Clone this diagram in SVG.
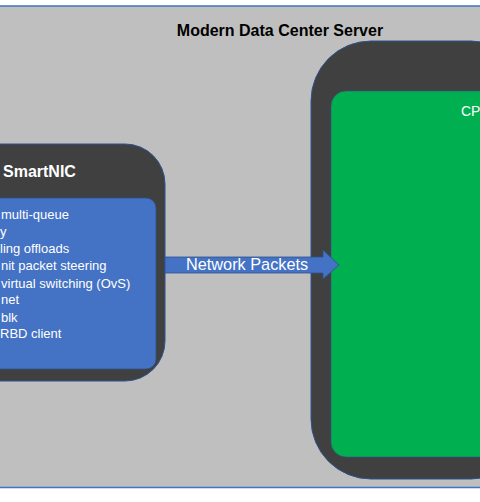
<svg xmlns="http://www.w3.org/2000/svg" width="480" height="502" viewBox="0 0 480 502">
  <style>
    .frame { fill: #404040; stroke: #2F528F; stroke-width: 1; }
    .lbl { font-family: "Liberation Sans", Arial, sans-serif; fill: #ffffff; }
    .item { font-family: "Liberation Sans", Arial, sans-serif; font-size: 13px; fill: #ffffff; }
  </style>
  <rect x="0" y="0" width="480" height="502" fill="#ffffff"/>
  <g id="server">
    <rect x="-10" y="6" width="500" height="481.5" fill="#BFBFBF" stroke="#4472C4" stroke-width="1.5"/>
    <text x="280" y="36" text-anchor="middle" font-family="Liberation Sans, Arial, sans-serif" font-size="16" font-weight="bold" fill="#000000">Modern Data Center Server</text>
  </g>
  <g id="smartnic">
    <rect class="frame" x="-80" y="144" width="245" height="237" rx="40" ry="40"/>
    <text class="lbl" x="3" y="177" font-size="16" font-weight="bold">SmartNIC</text>
    <rect x="-60" y="198" width="216" height="171" rx="10" ry="10" fill="#4472C4" stroke="#2F528F" stroke-width="0.8"/>
    <text class="item" x="1" y="219">multi-queue</text>
    <text class="item" x="0" y="236">y</text>
    <text class="item" x="0" y="253">ling offloads</text>
    <text class="item" x="1" y="270">nit packet steering</text>
    <text class="item" x="1" y="288">virtual switching (OvS)</text>
    <text class="item" x="1" y="304">net</text>
    <text class="item" x="1" y="322">blk</text>
    <text class="item" x="0" y="338">RBD client</text>
  </g>
  <g id="cpu">
    <rect class="frame" x="311" y="41" width="220" height="438" rx="60" ry="60"/>
    <rect x="331" y="91" width="180" height="366" rx="15" ry="15" fill="#00B050" stroke="#2F528F" stroke-width="0.6"/>
    <text class="lbl" x="461" y="116" font-size="14">CP</text>
  </g>
  <g id="connectors">
    <path d="M165,257 L323,257 L323,250 L339,265 L323,279 L323,273 L165,273 Z" fill="#4472C4" stroke="#2F528F" stroke-width="0.8"/>
    <text class="lbl" x="186" y="270" font-size="16.3">Network Packets</text>
  </g>
</svg>
